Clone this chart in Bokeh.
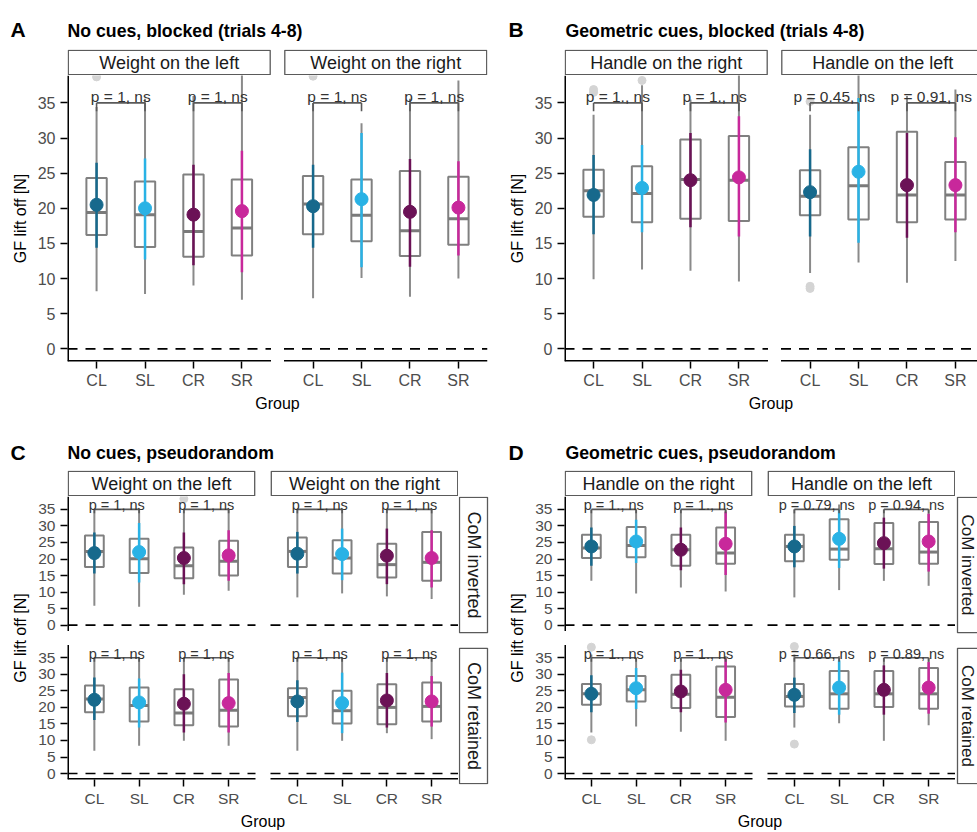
import math
from bokeh.plotting import figure
from bokeh.layouts import column, row
from bokeh.models import Range1d, FixedTicker
from bokeh.core.properties import value
from bokeh.embed import file_html
from bokeh.resources import INLINE

FONT = "Liberation Sans"
GROUPS = ["CL", "SL", "CR", "SR"]
COLORS = ["#17698c", "#29b2e5", "#6b1256", "#c8289b"]
Y_TICKS = [0, 5, 10, 15, 20, 25, 30, 35]
BRACKET_Y = 35

# ---------------- data (CL, SL, CR, SR) ----------------
# A: No cues, blocked -- Weight on the left
A1_wlo = [8.2, 7.8, 9.0, 7.0]
A1_q1 = [16.2, 14.5, 13.1, 13.3]
A1_med = [19.4, 19.1, 16.7, 17.2]
A1_q3 = [24.3, 23.8, 24.8, 24.1]
A1_whi = [34.4, 35.6, 36.0, 40.0]
A1_mean = [20.5, 20.0, 19.1, 19.6]
A1_lo = [14.4, 12.7, 11.9, 10.9]
A1_hi = [26.5, 27.1, 26.2, 28.2]
A1_out_g = ["CL"]
A1_out_v = [38.7]
A1_p = ["p = 1, ns", "p = 1, ns"]
# A: Weight on the right
A2_wlo = [7.2, 10.1, 7.4, 10.0]
A2_q1 = [16.3, 15.3, 13.2, 14.8]
A2_med = [20.6, 19.0, 16.8, 18.5]
A2_q3 = [24.6, 24.1, 25.3, 24.5]
A2_whi = [35.0, 32.1, 35.6, 38.2]
A2_mean = [20.3, 21.3, 19.5, 20.1]
A2_lo = [14.4, 11.6, 11.7, 13.3]
A2_hi = [26.2, 30.7, 27.0, 26.7]
A2_out_g = ["CL"]
A2_out_v = [38.8]
A2_p = ["p = 1, ns", "p = 1, ns"]

# B: Geometric cues, blocked -- Handle on the right
B1_wlo = [9.9, 11.3, 11.1, 9.6]
B1_q1 = [18.8, 18.0, 18.5, 18.2]
B1_med = [22.5, 22.1, 24.1, 24.0]
B1_q3 = [25.5, 26.0, 29.8, 30.3]
B1_whi = [33.3, 37.5, 35.5, 40.0]
B1_mean = [21.9, 22.9, 24.0, 24.4]
B1_lo = [16.3, 16.6, 17.3, 16.0]
B1_hi = [27.6, 29.0, 30.7, 33.1]
B1_out_g = ["CL", "CL", "SL"]
B1_out_v = [36.5, 36.9, 38.2]
B1_p = ["p = 1., ns", "p = 1., ns"]
# B: Handle on the left
B2_wlo = [10.8, 12.3, 9.4, 12.5]
B2_q1 = [19.0, 18.4, 18.0, 18.4]
B2_med = [21.7, 23.2, 21.9, 21.9]
B2_q3 = [25.4, 28.7, 30.9, 26.6]
B2_whi = [33.3, 40.0, 36.0, 36.9]
B2_mean = [22.3, 25.2, 23.3, 23.3]
B2_lo = [16.0, 15.1, 15.8, 16.6]
B2_hi = [28.4, 35.7, 30.7, 30.1]
B2_out_g = ["CL", "CL", "CL"]
B2_out_v = [35.2, 8.9, 8.6]
B2_p = ["p = 0.45, ns", "p = 0.91, ns"]

# C: No cues, pseudorandom -- CoM inverted, Weight on the left
C1_wlo = [5.9, 5.6, 9.2, 10.4]
C1_q1 = [17.6, 15.8, 14.2, 15.0]
C1_med = [22.3, 20.1, 18.0, 19.3]
C1_q3 = [27.1, 26.1, 23.5, 25.5]
C1_whi = [35.0, 35.2, 35.0, 35.0]
C1_mean = [21.8, 22.1, 20.3, 21.1]
C1_lo = [15.6, 12.9, 12.4, 13.4]
C1_hi = [28.0, 30.9, 28.0, 28.7]
C1_out_g = ["CR"]
C1_out_v = [38.2]
C1_p = ["p = 1, ns", "p = 1, ns"]
# C: CoM inverted, Weight on the right
C2_wlo = [8.4, 9.6, 8.7, 7.9]
C2_q1 = [17.6, 15.6, 14.4, 13.4]
C2_med = [22.3, 20.3, 18.3, 19.0]
C2_q3 = [26.5, 25.7, 24.6, 28.2]
C2_whi = [35.0, 35.0, 35.0, 35.0]
C2_mean = [21.6, 21.5, 21.0, 20.3]
C2_lo = [15.6, 13.6, 12.4, 11.4]
C2_hi = [28.2, 29.2, 29.2, 28.7]
C2_out_g = []
C2_out_v = []
C2_p = ["p = 1, ns", "p = 1, ns"]
# C: CoM retained, Weight on the left
C3_wlo = [6.9, 8.4, 9.9, 8.4]
C3_q1 = [18.5, 15.7, 14.6, 14.2]
C3_med = [22.5, 20.6, 18.3, 19.1]
C3_q3 = [26.6, 26.0, 25.5, 28.4]
C3_whi = [35.0, 35.0, 35.0, 35.0]
C3_mean = [22.3, 21.5, 21.1, 21.3]
C3_lo = [16.2, 13.9, 12.4, 12.4]
C3_hi = [29.0, 28.7, 30.0, 30.4]
C3_out_g = []
C3_out_v = []
C3_p = ["p = 1, ns", "p = 1, ns"]
# C: CoM retained, Weight on the right
C4_wlo = [6.9, 9.9, 12.2, 10.4]
C4_q1 = [17.3, 15.1, 14.9, 15.7]
C4_med = [23.0, 19.0, 20.0, 20.3]
C4_q3 = [25.8, 25.0, 27.0, 27.5]
C4_whi = [35.0, 35.0, 35.0, 35.0]
C4_mean = [21.8, 21.3, 22.1, 21.8]
C4_lo = [15.6, 12.2, 13.9, 14.2]
C4_hi = [28.2, 30.5, 30.4, 29.5]
C4_out_g = []
C4_out_v = []
C4_p = ["p = 1, ns", "p = 1, ns"]

# D: Geometric cues, pseudorandom -- CoM inverted, Handle on the right
D1_wlo = [13.4, 9.6, 11.4, 10.2]
D1_q1 = [20.3, 20.5, 18.0, 18.6]
D1_med = [23.3, 24.1, 22.8, 21.8]
D1_q3 = [27.3, 29.7, 27.3, 29.5]
D1_whi = [35.0, 35.0, 35.0, 35.0]
D1_mean = [23.8, 25.3, 22.8, 24.6]
D1_lo = [18.0, 18.8, 16.6, 15.2]
D1_hi = [29.5, 31.9, 29.5, 34.4]
D1_out_g = []
D1_out_v = []
D1_p = ["p = 1., ns", "p = 1., ns"]
# D: CoM inverted, Handle on the left
D2_wlo = [8.4, 10.6, 13.4, 11.9]
D2_q1 = [19.3, 19.8, 18.5, 18.6]
D2_med = [23.8, 23.0, 23.1, 22.1]
D2_q3 = [27.3, 32.0, 30.9, 31.2]
D2_whi = [35.0, 36.5, 35.0, 35.0]
D2_mean = [23.8, 26.1, 24.8, 25.3]
D2_lo = [17.5, 17.3, 17.1, 16.2]
D2_hi = [30.0, 35.0, 32.5, 33.7]
D2_out_g = []
D2_out_v = []
D2_p = ["p = 0.79, ns", "p = 0.94, ns"]
# D: CoM retained, Handle on the right
D3_wlo = [12.4, 14.2, 12.6, 9.9]
D3_q1 = [20.8, 21.8, 19.8, 17.1]
D3_med = [24.1, 25.3, 24.0, 23.1]
D3_q3 = [27.1, 29.5, 29.9, 32.4]
D3_whi = [36.0, 35.0, 35.0, 35.5]
D3_mean = [24.1, 25.8, 24.8, 25.3]
D3_lo = [18.5, 19.5, 18.5, 15.4]
D3_hi = [29.7, 31.9, 31.4, 34.7]
D3_out_g = ["CL", "CL"]
D3_out_v = [38.2, 10.2]
D3_p = ["p = 1., ns", "p = 1., ns"]
# D: CoM retained, Handle on the left
D4_wlo = [13.9, 15.2, 9.9, 14.6]
D4_q1 = [20.3, 19.6, 20.1, 19.6]
D4_med = [23.3, 24.1, 24.1, 24.1]
D4_q3 = [27.1, 31.0, 31.0, 31.9]
D4_whi = [36.0, 35.5, 35.0, 35.0]
D4_mean = [23.8, 26.0, 25.3, 26.0]
D4_lo = [18.3, 17.8, 17.8, 18.1]
D4_hi = [29.0, 34.2, 32.7, 33.7]
D4_out_g = ["CL", "CL"]
D4_out_v = [38.4, 8.9]
D4_p = ["p = 0.66, ns", "p = 0.89, ns"]


def facet(wlo, q1, med, q3, whi, mean, lo, hi, og, ov, pv):
    return dict(wlo=wlo, q1=q1, med=med, q3=q3, whi=whi, mean=mean,
                lo=lo, hi=hi, og=og, ov=ov, pv=pv)


FA1 = facet(A1_wlo, A1_q1, A1_med, A1_q3, A1_whi, A1_mean, A1_lo, A1_hi, A1_out_g, A1_out_v, A1_p)
FA2 = facet(A2_wlo, A2_q1, A2_med, A2_q3, A2_whi, A2_mean, A2_lo, A2_hi, A2_out_g, A2_out_v, A2_p)
FB1 = facet(B1_wlo, B1_q1, B1_med, B1_q3, B1_whi, B1_mean, B1_lo, B1_hi, B1_out_g, B1_out_v, B1_p)
FB2 = facet(B2_wlo, B2_q1, B2_med, B2_q3, B2_whi, B2_mean, B2_lo, B2_hi, B2_out_g, B2_out_v, B2_p)
FC1 = facet(C1_wlo, C1_q1, C1_med, C1_q3, C1_whi, C1_mean, C1_lo, C1_hi, C1_out_g, C1_out_v, C1_p)
FC2 = facet(C2_wlo, C2_q1, C2_med, C2_q3, C2_whi, C2_mean, C2_lo, C2_hi, C2_out_g, C2_out_v, C2_p)
FC3 = facet(C3_wlo, C3_q1, C3_med, C3_q3, C3_whi, C3_mean, C3_lo, C3_hi, C3_out_g, C3_out_v, C3_p)
FC4 = facet(C4_wlo, C4_q1, C4_med, C4_q3, C4_whi, C4_mean, C4_lo, C4_hi, C4_out_g, C4_out_v, C4_p)
FD1 = facet(D1_wlo, D1_q1, D1_med, D1_q3, D1_whi, D1_mean, D1_lo, D1_hi, D1_out_g, D1_out_v, D1_p)
FD2 = facet(D2_wlo, D2_q1, D2_med, D2_q3, D2_whi, D2_mean, D2_lo, D2_hi, D2_out_g, D2_out_v, D2_p)
FD3 = facet(D3_wlo, D3_q1, D3_med, D3_q3, D3_whi, D3_mean, D3_lo, D3_hi, D3_out_g, D3_out_v, D3_p)
FD4 = facet(D4_wlo, D4_q1, D4_med, D4_q3, D4_whi, D4_mean, D4_lo, D4_hi, D4_out_g, D4_out_v, D4_p)

# ---------------- styling / layout constants ----------------
W = 977
WHISKER = "#8a8a8a"
BOXC = "#808080"
BW = 0.21
Y_LO, Y_HI = -1.8, 38.9


def base_fig(width, height, x_range, y_range, left=0, right=0, top=0, bottom=0, axes=False):
    kw = dict(width=width, height=height, x_range=x_range, y_range=y_range,
              output_backend="svg", toolbar_location=None,
              min_border_left=left, min_border_right=right,
              min_border_top=top, min_border_bottom=bottom)
    if not axes:
        kw.update(x_axis_type=None, y_axis_type=None)
    p = figure(**kw)
    p.outline_line_color = None
    p.background_fill_color = "white"
    p.border_fill_color = "white"
    return p


def title_fig(height, items):
    p = base_fig(W, height, Range1d(0, W), Range1d(height, 0))
    for x, y, txt, size in items:
        p.text(x=[x], y=[y], text=[txt], text_font=value(FONT), text_font_size=size,
               text_font_style="bold", text_baseline="alphabetic", text_align="left",
               text_color="black")
    return p


def x_scale(frame_w, gap_px):
    s = (frame_w - gap_px) / 8.4
    off = 4.2 + gap_px / s
    return s, off


def top_strip(width, left, right, x_range, s, off, labels):
    p = base_fig(width, 26, x_range, Range1d(0, 1), left=left, right=right)
    ins = 0.8 / s
    lefts = [0.4 + ins, 0.4 + off + ins]
    rights = [4.6 - ins, 4.6 + off - ins]
    p.quad(left=lefts, right=rights, bottom=0.03, top=0.97, fill_color="white",
           line_color="#5a5a5a", line_width=1.3)
    p.text(x=[2.5, 2.5 + off], y=[0.5, 0.5], text=labels, text_font=value(FONT),
           text_font_size="18px", text_align="center", text_baseline="middle",
           text_color="#1a1a1a")
    return p


def side_strip(width, height, top, bottom, y_range, box_l, box_r, text_x, yoff, labels, size):
    p = base_fig(width, height, Range1d(0, width), y_range, top=top, bottom=bottom)
    ins = 0.25
    p.quad(left=[box_l, box_l], right=[box_r, box_r],
           bottom=[Y_LO + yoff + ins, Y_LO + ins], top=[Y_HI + yoff - ins, Y_HI - ins],
           fill_color="white", line_color="#5a5a5a", line_width=1.3)
    mid = (Y_LO + Y_HI) / 2
    p.text(x=[text_x, text_x], y=[mid + yoff, mid], text=labels, angle=-math.pi / 2,
           text_font=value(FONT), text_font_size=size, text_align="center",
           text_baseline="middle", text_color="#1a1a1a")
    return p


def draw_facet(p, xoff, yoff, f, pv_size, pv_shift):
    xs = [i + 1 + xoff for i in range(4)]

    def sh(vals):
        return [v + yoff for v in vals]

    # zero reference line
    p.segment(x0=[0.4 + xoff], y0=[yoff], x1=[4.6 + xoff], y1=[yoff],
              line_color="black", line_width=1.6, line_dash="10 8")
    # outliers
    if f["og"]:
        ox = [xoff + 1 + GROUPS.index(g) for g in f["og"]]
        p.scatter(x=ox, y=sh(f["ov"]), size=8, fill_color="#d4d4d4", line_color="#d4d4d4")
    # whiskers
    p.segment(x0=xs, y0=sh(f["wlo"]), x1=xs, y1=sh(f["whi"]), line_color=WHISKER, line_width=2)
    # boxes
    p.quad(left=[x - BW for x in xs], right=[x + BW for x in xs],
           bottom=sh(f["q1"]), top=sh(f["q3"]), fill_color=None,
           line_color=BOXC, line_width=2)
    p.segment(x0=[x - BW for x in xs], y0=sh(f["med"]), x1=[x + BW for x in xs],
              y1=sh(f["med"]), line_color="#7a7a7a", line_width=3)
    # mean +- range
    p.segment(x0=xs, y0=sh(f["lo"]), x1=xs, y1=sh(f["hi"]), line_color=COLORS, line_width=2.5)
    p.scatter(x=xs, y=sh(f["mean"]), size=13, fill_color=COLORS, line_color=COLORS)
    # significance brackets
    yb = BRACKET_Y + yoff
    tip = 1.2
    for (a, b), lab in zip([(0, 1), (2, 3)], f["pv"]):
        x1, x2 = xs[a], xs[b]
        p.segment(x0=[x1, x1, x2], y0=[yb, yb, yb], x1=[x2, x1, x2], y1=[yb, yb - tip, yb - tip],
                  line_color="#595959", line_width=1.6)
        p.text(x=[(x1 + x2) / 2], y=[yb], text=[lab], text_font=value(FONT),
               text_font_size=pv_size, text_align="center", text_baseline="bottom",
               y_offset=pv_shift, text_color="#333333")


def main_fig(width, height, left, bottom, x_range, y_range, s, off, row_offsets,
             facets, tick_size, pv_size, pv_shift):
    p = base_fig(width, height, x_range, y_range, left=left, right=0, top=0,
                 bottom=bottom, axes=True)
    p.grid.visible = False
    xt = [round(i + 1 + k * off, 4) for k in range(2) for i in range(4)]
    yt = [round(v + ro, 4) for ro in row_offsets for v in Y_TICKS]
    xa, ya = p.xaxis[0], p.yaxis[0]
    xa.ticker = FixedTicker(ticks=xt)
    xa.major_label_overrides = {t: g for t, g in zip(xt, GROUPS * 2)}
    ya.ticker = FixedTicker(ticks=yt)
    ya.major_label_overrides = {t: str(v) for t, v in zip(yt, Y_TICKS * len(row_offsets))}
    for ax in (xa, ya):
        ax.axis_line_color = None
        ax.major_tick_out = 7
        ax.major_tick_in = 0
        ax.major_tick_line_color = "black"
        ax.major_tick_line_width = 1.5
        ax.minor_tick_line_color = None
        ax.major_label_text_font = FONT
        ax.major_label_text_font_size = tick_size
        ax.major_label_text_color = "#4d4d4d"
        ax.axis_label_text_font = FONT
        ax.axis_label_text_font_size = "16px"
        ax.axis_label_text_font_style = "normal"
        ax.axis_label_text_color = "black"
    xa.major_label_standoff = 3
    xa.axis_label_standoff = 3
    ya.major_label_standoff = 5
    ya.axis_label_standoff = 6
    xa.axis_label = "Group"
    ya.axis_label = "GF lift off [N]"
    for (ro, fl, fr) in facets:
        draw_facet(p, 0, ro, fl, pv_size, pv_shift)
        draw_facet(p, off, ro, fr, pv_size, pv_shift)
    # axis lines
    for ro in row_offsets:
        p.segment(x0=[0.4], y0=[Y_LO + ro], x1=[0.4], y1=[Y_HI + ro], line_color="black", line_width=3)
    p.segment(x0=[0.4, 0.4 + off], y0=[Y_LO, Y_LO], x1=[4.6, 4.6 + off], y1=[Y_LO, Y_LO],
              line_color="black", line_width=3)
    return p


# ---------------- panels A & B ----------------
title_AB = title_fig(49, [(10, 29, "A", "21px"), (67, 30, "No cues, blocked (trials 4-8)", "17.7px"),
                          (508, 29, "B", "21px"), (565, 30, "Geometric cues, blocked (trials 4-8)", "17.7px")])

FRAME_AB_H = 287
BOTTOM_AB = 52
sA, offA = x_scale(420, 13)
xrA = Range1d(0.4, 0.4 + 420 / sA)
xrB = Range1d(0.4, 0.4 + 413 / sA)

strip_A = top_strip(490, 67, 3, xrA, sA, offA, ["Weight on the left", "Weight on the right"])
main_A = main_fig(490, FRAME_AB_H + BOTTOM_AB, 67, BOTTOM_AB, xrA, Range1d(Y_LO, Y_HI), sA, offA,
                  [0], [(0, FA1, FA2)], "16px", "15.5px", 2)
main_A.min_border_right = 3

strip_B = top_strip(487, 74, 0, xrB, sA, offA, ["Handle on the right", "Handle on the left"])
main_B = main_fig(487, FRAME_AB_H + BOTTOM_AB, 74, BOTTOM_AB, xrB, Range1d(Y_LO, Y_HI), sA, offA,
                  [0], [(0, FB1, FB2)], "16px", "15.5px", 2)

# ---------------- panels C & D ----------------
title_CD = title_fig(56, [(10, 38, "C", "21px"), (67, 38, "No cues, pseudorandom", "17.7px"),
                          (508, 38, "D", "21px"), (565, 38, "Geometric cues, pseudorandom", "17.7px")])

FRAME_CD_H = 288
BOTTOM_CD = 48
GAP_ROW_PX = 14
sy = (FRAME_CD_H - GAP_ROW_PX) / (2 * (Y_HI - Y_LO))
ROW_OFF = (Y_HI - Y_LO) + GAP_ROW_PX / sy
yrC = Range1d(Y_LO, Y_HI + ROW_OFF)
yrD = Range1d(Y_LO, Y_HI + ROW_OFF)

sC, offC = x_scale(391, 15)
xrC = Range1d(0.4, 0.4 + 391 / sC)
xrD = Range1d(0.4, 0.4 + 391 / sC)

strip_C = top_strip(458, 67, 0, xrC, sC, offC, ["Weight on the left", "Weight on the right"])
main_C = main_fig(458, FRAME_CD_H + BOTTOM_CD, 67, BOTTOM_CD, xrC, yrC, sC, offC,
                  [0, ROW_OFF], [(ROW_OFF, FC1, FC2), (0, FC3, FC4)], "15.5px", "14.5px", 4)
side_C = side_strip(32, 26 + FRAME_CD_H + BOTTOM_CD, 26, BOTTOM_CD, yrC, 1, 29, 15, ROW_OFF,
                    ["CoM inverted", "CoM retained"], "18px")

strip_D = top_strip(465, 74, 0, xrD, sC, offC, ["Handle on the right", "Handle on the left"])
main_D = main_fig(465, FRAME_CD_H + BOTTOM_CD, 74, BOTTOM_CD, xrD, yrD, sC, offC,
                  [0, ROW_OFF], [(ROW_OFF, FD1, FD2), (0, FD3, FD4)], "15.5px", "14.5px", 4)
side_D = side_strip(22, 26 + FRAME_CD_H + BOTTOM_CD, 26, BOTTOM_CD, yrD, 2, 30, 12, ROW_OFF,
                    ["CoM inverted", "CoM retained"], "17px")

layout = column(
    title_AB,
    row(column(strip_A, main_A), column(strip_B, main_B)),
    title_CD,
    row(column(strip_C, main_C), side_C, column(strip_D, main_D), side_D),
)

with open("out.html", "w") as fh:
    fh.write(file_html(layout, INLINE))
